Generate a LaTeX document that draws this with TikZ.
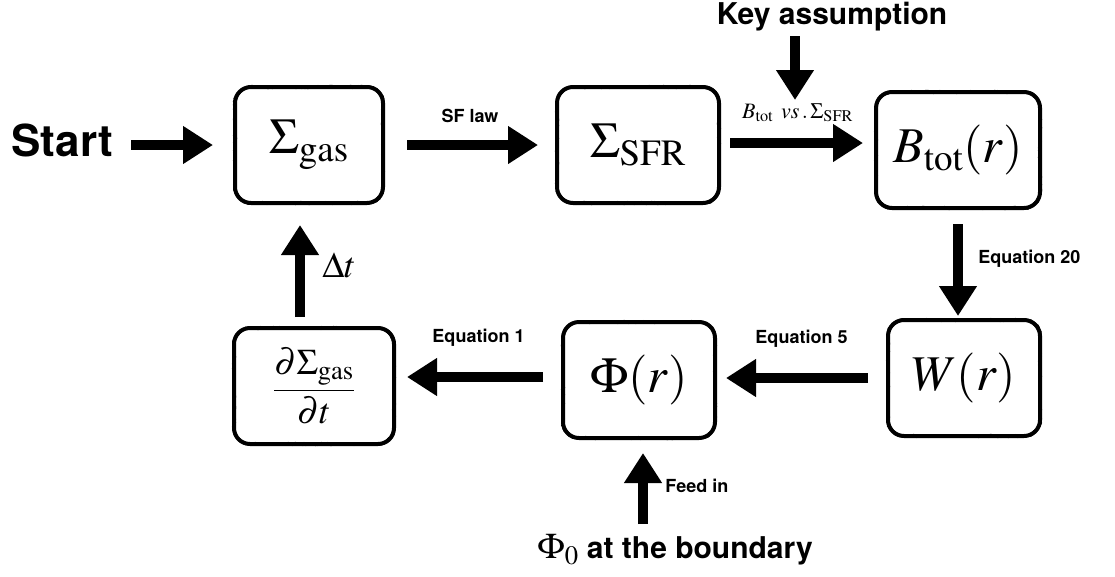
\documentclass[tikz,border=0pt]{standalone}
\usepackage{mathptmx}
\usepackage{fontspec}
\setmainfont{Liberation Serif}
\setsansfont{TeX Gyre Heros}
\usetikzlibrary{arrows.meta,decorations.pathmorphing}
\begin{document}
\begin{tikzpicture}[x=1pt,y=-1pt,
  box/.style={draw=black, line width=4pt, rounded corners=16pt,
    postaction={draw, line width=1.6pt, line join=round, sharp corners, decorate,
      decoration={random steps,segment length=1.2pt,amplitude=1.4pt}},
    inner sep=0pt, minimum width=#1, minimum height=116pt, font=\fontsize{50}{55}\selectfont},
  box/.default=152pt,
  flow/.style={line width=10pt, -{Triangle[length=30pt,width=36pt]}},
  lab/.style={font=\sffamily\bfseries\fontsize{18}{20}\selectfont},
  big/.style={font=\sffamily\bfseries\fontsize{30}{34}\selectfont}]
\useasboundingbox (0,0) rectangle (1115,576);
\node[box=148pt] (gas) at (309,145) {$\Sigma_{\mathrm{gas}}$};
\node[box=162pt] (sfr) at (638,145) {$\Sigma_{\mathrm{SFR}}$};
\node[box=164pt] (btot) at (958,150) {$B_{\mathrm{tot}}(r)$};
\node[box] (w) at (964,378) {$W(r)$};
\node[box] (phi) at (639,380) {$\Phi(r)$};
\node[box=160pt,font=\fontsize{36}{40}\selectfont] (dsig) at (314,386) {$\displaystyle\frac{\partial\Sigma_{\mathrm{gas}}}{\partial t}$};
\node[font=\sffamily\bfseries\fontsize{44}{48}\selectfont] (start) at (62,140) {Start};
\node[big] (key) at (832,17) {Key assumption};
\node[big] (bound) at (675,550) {{\fontsize{36}{40}\selectfont$\Phi_0$} at the boundary};
\coordinate (ka) at (795,100);
\coordinate (kb) at (795,36);
\draw[flow, shorten <=15pt, shorten >=20pt] (start.east |- gas.west) -- (gas.west);
\draw[flow, shorten <=22pt, shorten >=17pt] (gas.east) -- node[lab, above=14pt] {SF law} (sfr.east -| sfr.west);
\draw[flow, shorten <=9pt, shorten >=11pt] ([yshift=2pt]sfr.east) -- node[above=13pt, font=\fontsize{22}{24}\selectfont] {$B_{\mathrm{tot}}\ \,vs\,.\,\Sigma_{\mathrm{SFR}}$} ([yshift=2pt]sfr.east -| btot.west);
\draw[flow] (kb) -- (ka);
\draw[flow, shorten <=14pt, shorten >=2pt] (btot.south) -- node[lab, right=12pt, pos=0.45] {Equation 20} (btot.south |- w.north);
\draw[flow, shorten <=18pt, shorten >=9pt] (w.west) -- node[lab, above=22pt] {Equation 5} (w.west -| phi.east);
\draw[flow, shorten <=18pt, shorten >=11pt] ([yshift=3pt]phi.west) -- node[lab, above=22pt] {Equation 1} ([yshift=3pt]phi.west -| dsig.east);
\draw[flow, shorten <=9pt, shorten >=20pt] ([xshift=-14pt]dsig.north) -- node[right=14pt, font=\fontsize{36}{40}\selectfont] {$\Delta t$} ([xshift=-14pt]dsig.north |- gas.south);
\draw[flow, shorten <=7pt, shorten >=13pt] ([xshift=-32pt]bound.north) -- node[lab, right=14pt] {Feed in} ([xshift=-32pt]bound.north |- phi.south);
\end{tikzpicture}
\end{document}
